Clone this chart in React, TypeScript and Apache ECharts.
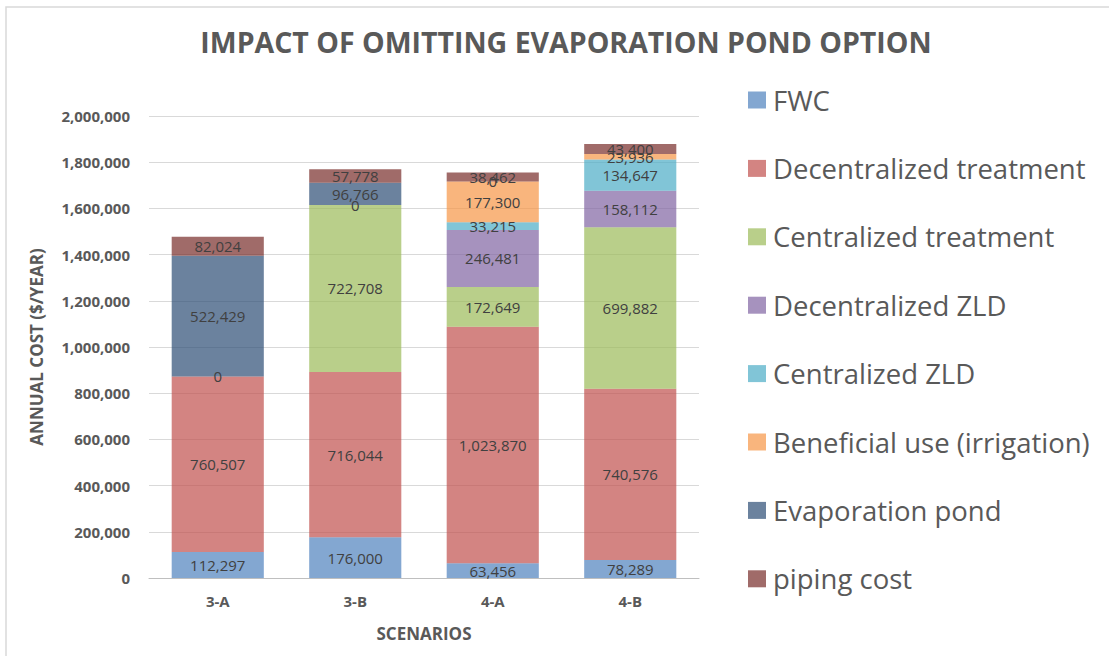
import React, { useEffect, useRef } from "react";
import * as echarts from "echarts";

const scenarios = ["3-A", "3-B", "4-A", "4-B"];
const seriesNames = [
  "FWC",
  "Decentralized treatment",
  "Centralized treatment",
  "Decentralized ZLD",
  "Centralized ZLD",
  "Beneficial use (irrigation)",
  "Evaporation pond",
  "piping cost",
];
const fwc = [112297, 176000, 63456, 78289];
const decentralizedTreatment = [760507, 716044, 1023870, 740576];
const centralizedTreatment = [0, 722708, 172649, 699882];
const decentralizedZLD = [null, null, 246481, 158112];
const centralizedZLD = [null, 0, 33215, 134647];
const beneficialUse = [null, null, 177300, 23936];
const evaporationPond = [522429, 96766, 0, null];
const pipingCost = [82024, 57778, 38462, 43400];
const seriesValues = [
  fwc,
  decentralizedTreatment,
  centralizedTreatment,
  decentralizedZLD,
  centralizedZLD,
  beneficialUse,
  evaporationPond,
  pipingCost,
];
const colors = [
  "rgba(79,129,189,0.7)",
  "rgba(192,80,77,0.7)",
  "rgba(155,187,89,0.7)",
  "rgba(128,100,162,0.7)",
  "rgba(75,172,198,0.7)",
  "rgba(247,150,70,0.7)",
  "rgba(44,77,117,0.7)",
  "rgba(119,44,42,0.7)",
];
const yTicks = { min: 0, max: 2000000, interval: 200000 };

const FONT = "'Open Sans', sans-serif";
const GREY = "#595959";

export default function App() {
  const ref = useRef<HTMLDivElement>(null);
  useEffect(() => {
    if (!ref.current) return;
    const chart = echarts.init(ref.current, null, { renderer: "svg" });
    const fmt = (v: number) => v.toLocaleString("en-US");
    chart.setOption({
      animation: false,
      backgroundColor: "#ffffff",
      title: {
        text: "IMPACT OF OMITTING EVAPORATION POND OPTION",
        left: 561,
        textAlign: "center",
        top: 22,
        textStyle: { fontFamily: FONT, fontWeight: "bold", fontSize: 28.5, color: GREY },
      },
      graphic: [
        {
          type: "polyline",
          shape: { points: [[6, 700], [6, 7], [1200, 7]] },
          style: { stroke: "#d9d9d9", lineWidth: 1.5, fill: null },
          silent: true,
        },
      ],
      legend: {
        orient: "vertical",
        left: 743,
        top: 81,
        itemWidth: 18,
        itemHeight: 17,
        itemGap: 40.4,
        icon: "rect",
        textStyle: { fontFamily: FONT, fontSize: 27.5, color: GREY, lineHeight: 24, padding: [0, 0, 0, 2] },
        data: seriesNames,
      },
      grid: { left: 149, right: 410, top: 116, bottom: 78, containLabel: false },
      xAxis: {
        type: "category",
        data: scenarios,
        name: "SCENARIOS",
        nameLocation: "middle",
        nameGap: 47,
        nameTextStyle: { fontFamily: FONT, fontWeight: "bold", fontSize: 17, color: GREY },
        axisLine: { lineStyle: { color: "#bfbfbf", width: 1 } },
        axisTick: { show: false },
        axisLabel: { fontFamily: FONT, fontWeight: "bold", fontSize: 15, color: GREY, margin: 15 },
      },
      yAxis: {
        type: "value",
        min: yTicks.min,
        max: yTicks.max,
        interval: yTicks.interval,
        name: "ANNUAL COST ($/YEAR)",
        nameLocation: "middle",
        nameRotate: 90,
        nameGap: 104,
        nameTextStyle: { fontFamily: FONT, fontWeight: "bold", fontSize: 17, color: GREY },
        axisLine: { show: false },
        axisTick: { show: false },
        splitLine: { lineStyle: { color: "#d9d9d9", width: 1 } },
        axisLabel: {
          fontFamily: FONT,
          fontWeight: "bold",
          fontSize: 15,
          color: GREY,
          margin: 19,
          formatter: (v: number) => fmt(v),
        },
      },
      series: seriesNames.map((name, i) => ({
        name,
        type: "bar",
        stack: "total",
        barWidth: "67%",
        data: seriesValues[i],
        itemStyle: { color: colors[i] },
        label: {
          show: true,
          position: "inside",
          fontFamily: FONT,
          fontSize: 15,
          color: "#404040",
          formatter: (p: any) => fmt(p.value),
        },
      })),
    });
    return () => chart.dispose();
  }, []);
  return (
    <div
      ref={ref}
      style={{ position: "fixed", left: 0, top: 0, width: 1109, height: 656 }}
    />
  );
}
